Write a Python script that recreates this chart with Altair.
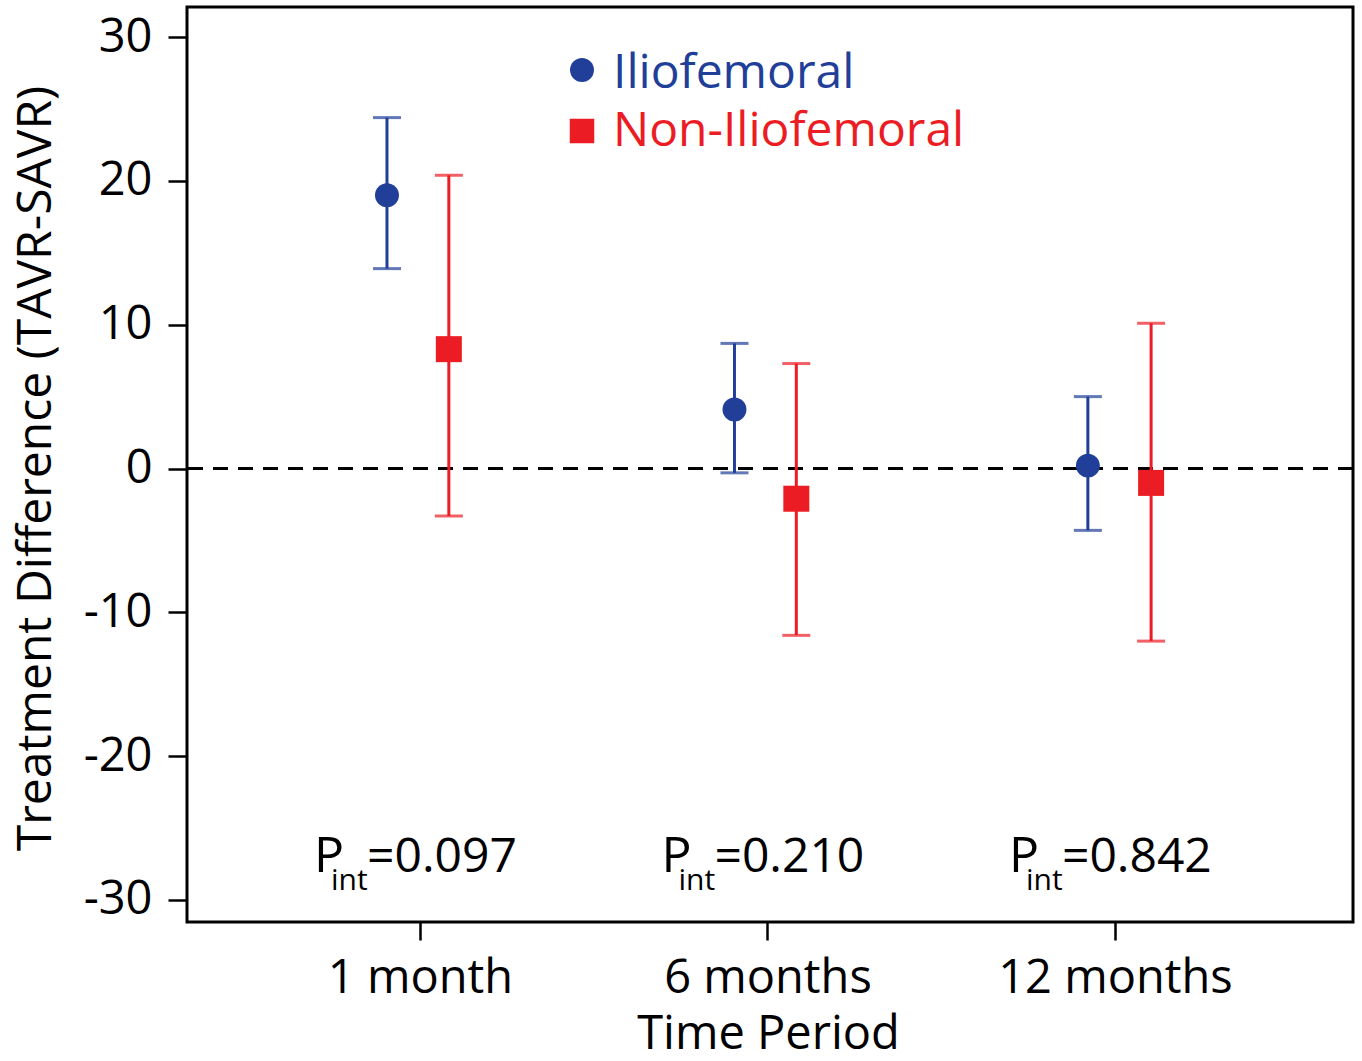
import altair as alt
import pandas as pd

# ---- data ----
time_labels = ["1 month", "6 months", "12 months"]
time_pos = [1, 2, 3]
series = ["Iliofemoral", "Non-Iliofemoral"]
colors = ["#213f99", "#ec1c24"]
shapes = ["circle", "square"]

ilio_x = [0.905, 1.905, 2.922]
ilio_est = [19.0, 4.1, 0.2]
ilio_lo = [13.9, -0.3, -4.3]
ilio_hi = [24.4, 8.7, 5.0]

non_x = [1.083, 2.083, 3.104]
non_est = [8.3, -2.1, -1.0]
non_lo = [-3.3, -11.6, -12.0]
non_hi = [20.4, 7.3, 10.1]

p_int = ["0.097", "0.210", "0.842"]

rows = []
for s, xs, es, los, his in [
    (series[0], ilio_x, ilio_est, ilio_lo, ilio_hi),
    (series[1], non_x, non_est, non_lo, non_hi),
]:
    for t, x, e, lo, hi in zip(time_labels, xs, es, los, his):
        rows.append({"series": s, "time": t, "x": x, "est": e, "lo": lo, "hi": hi})
df = pd.DataFrame(rows)
pdf = pd.DataFrame({"pos": time_pos, "p": ["=" + p for p in p_int]})

FONT = "Open Sans"
FS = 47

label_expr = " : ".join(
    f"datum.value == {p} ? '{l}'" for p, l in zip(time_pos[:-1], time_labels[:-1])
) + f" : '{time_labels[-1]}'"

xscale = alt.Scale(domain=[0.3295, 3.685], nice=False, zero=False)
yscale = alt.Scale(domain=[-31.53, 32.09], nice=False, zero=False)
xaxis = alt.Axis(
    values=time_pos, labelExpr=label_expr, title="Time Period", grid=False,
    domain=False, tickSize=18, tickWidth=2.5, tickColor="black",
    labelFontSize=FS, labelColor="black", labelFont=FONT, labelPadding=52,
    labelBaseline="alphabetic", labelFlush=False, labelLimit=800, labelOverlap=False,
    titleFontSize=FS, titleFont=FONT, titleFontWeight="normal", titleColor="black",
    titleX=581, titleY=126, titleBaseline="alphabetic", titleAlign="center",
    titleLimit=1000,
)
yaxis = alt.Axis(
    values=[-30, -20, -10, 0, 10, 20, 30], labelExpr="'' + datum.value",
    title="Treatment Difference (TAVR-SAVR)",
    grid=False, domain=False, tickSize=19, tickWidth=2.5, tickColor="black",
    labelFontSize=FS, labelColor="black", labelFont=FONT, labelPadding=16,
    labelBaseline="middle", labelLimit=400, labelOverlap=False,
    titleFontSize=48, titleFont=FONT, titleFontWeight="normal", titleColor="black",
    titleX=-137, titleY=461, titleAngle=-90, titleBaseline="alphabetic", titleAlign="center",
    titleLimit=1000,
)
color = alt.Color("series:N", scale=alt.Scale(domain=series, range=colors), legend=None)
X = alt.X("x:Q", scale=xscale, axis=xaxis)

base = alt.Chart(df)

zero = alt.Chart(pd.DataFrame({"y": [0]})).mark_rule(
    color="black", strokeWidth=3, strokeDash=[15, 10]
).encode(y=alt.Y("y:Q", scale=yscale, axis=yaxis))

bars = base.mark_rule(strokeWidth=3).encode(
    x=X, y=alt.Y("lo:Q", scale=yscale, axis=yaxis), y2="hi:Q", color=color
)
cap_hi = base.mark_tick(orient="horizontal", size=28, thickness=3).encode(
    x=X, y=alt.Y("hi:Q", scale=yscale, axis=yaxis), color=color
)
cap_lo = base.mark_tick(orient="horizontal", size=28, thickness=3).encode(
    x=X, y=alt.Y("lo:Q", scale=yscale, axis=yaxis), color=color
)
shape = alt.Shape("series:N", scale=alt.Scale(domain=series, range=shapes), legend=None)
size = alt.Size("series:N", scale=alt.Scale(domain=series, range=[573, 676]), legend=None)
pts = base.mark_point(filled=True, opacity=1).encode(
    x=X, y=alt.Y("est:Q", scale=yscale, axis=yaxis), color=color, shape=shape, size=size
)

pbase = alt.Chart(pdf)
PX = alt.X("pos:Q", scale=xscale, axis=xaxis)
txt_P = pbase.mark_text(align="left", baseline="alphabetic", dx=-106, fontSize=50,
                        font=FONT, color="black").encode(
    x=PX, y=alt.value(865), text=alt.value("P"))
txt_int = pbase.mark_text(align="left", baseline="alphabetic", dx=-89, fontSize=30,
                          font=FONT, color="black").encode(
    x=PX, y=alt.value(883), text=alt.value("int"))
txt_val = pbase.mark_text(align="left", baseline="alphabetic", dx=-53, fontSize=48,
                          font=FONT, color="black").encode(
    x=PX, y=alt.value(865), text="p:N")

legend_layers = []
for i, (s, c, sh) in enumerate(zip(series, colors, shapes)):
    ld = alt.Chart(pd.DataFrame({"s": [s]}))
    legend_layers.append(
        ld.mark_point(filled=True, opacity=1, shape=sh, color=c,
                      size=[573, 600][i]).encode(
            x=alt.value(395), y=alt.value(63 + i * 61))
    )
    legend_layers.append(
        ld.mark_text(align="left", baseline="alphabetic", fontSize=48, font=FONT,
                     color=c).encode(
            x=alt.value(426), y=alt.value(81 + i * 58), text="s:N")
    )

chart = alt.layer(
    zero, bars, cap_hi, cap_lo, pts, txt_P, txt_int, txt_val, *legend_layers
).properties(
    width=1166, height=915,
    autosize=alt.AutoSizeParams(type="none"),
    padding={"left": 187, "top": 7, "right": 9, "bottom": 138},
    background="white",
).configure(
    font=FONT,
    view=alt.ViewConfig(stroke="black", strokeWidth=3),
)

chart.save("out.html", embed_options={"renderer": "svg", "actions": False})
